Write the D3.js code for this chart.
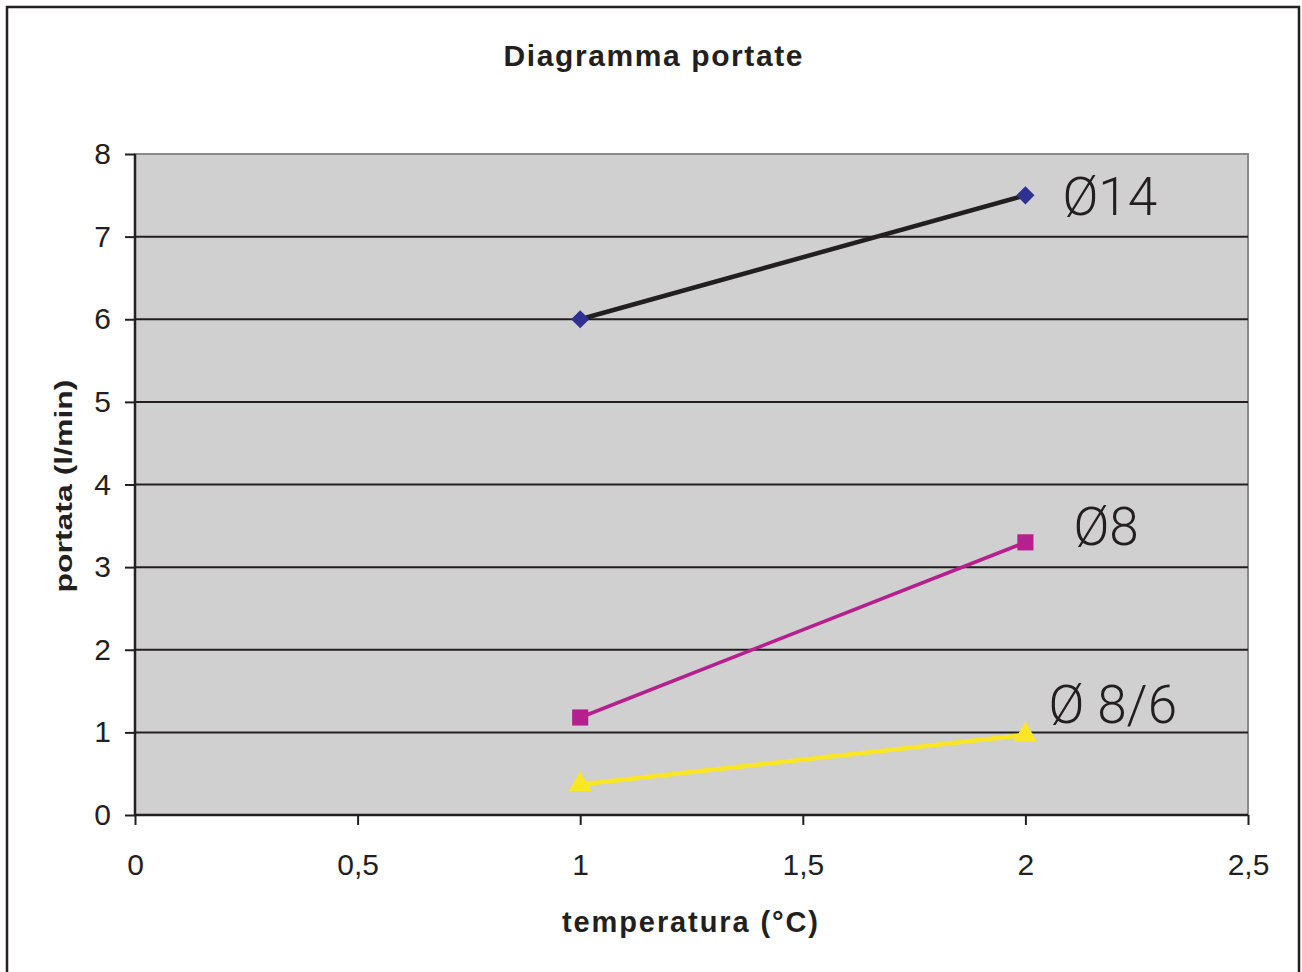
<!DOCTYPE html>
<html><head><meta charset="utf-8">
<script src="https://cdn.jsdelivr.net/npm/d3@7"></script>
<style>
html,body{margin:0;padding:0;background:#fff;}
svg{display:block;}
</style></head>
<body>
<script>
const xTicks = [0, 0.5, 1, 1.5, 2, 2.5];
const xTickLabels = ["0", "0,5", "1", "1,5", "2", "2,5"];
const yTicks = [0, 1, 2, 3, 4, 5, 6, 7, 8];
const temps = [1, 2];
const seriesNames = ["Ø14", "Ø8", "Ø 8/6"];
const d14 = [6.0, 7.5];
const d8 = [1.18, 3.3];
const d86 = [0.37, 0.97];

const W = 1302, H = 972;
const margin = {left: 135, right: W - 1248, top: 154, bottom: H - 815};
const svg = d3.select("body").append("svg").attr("width", W).attr("height", H);

// outer frame
svg.append("rect").attr("x", 7).attr("y", 7).attr("width", 1292).attr("height", 980)
  .attr("fill", "#fff").attr("stroke", "#231f20").attr("stroke-width", 2.5);

const x = d3.scaleLinear().domain([0, 2.5]).range([margin.left, W - margin.right]);
const y = d3.scaleLinear().domain([0, 8]).range([H - margin.bottom, margin.top]);

// plot background
svg.append("rect").attr("x", x(0)).attr("y", y(8)).attr("width", x(2.5) - x(0)).attr("height", y(0) - y(8))
  .attr("fill", "#d0d0d0").attr("stroke", "#8a8a8a").attr("stroke-width", 2);

// gridlines
svg.append("g").selectAll("line").data(yTicks.filter(d => d > 0 && d < 8)).join("line")
  .attr("x1", x(0)).attr("x2", x(2.5)).attr("y1", d => y(d)).attr("y2", d => y(d))
  .attr("stroke", "#231f20").attr("stroke-width", 2);

const baseFont = "'Liberation Sans', Arial, Helvetica, sans-serif";

// y axis
const yAxis = svg.append("g").attr("transform", `translate(${x(0)},0)`)
  .call(d3.axisLeft(y).tickValues(yTicks).tickSize(10).tickPadding(14).tickFormat(d3.format("d")));
yAxis.select(".domain").attr("stroke", "#231f20").attr("stroke-width", 2.5).attr("d", `M0,${y(8)}V${y(0)}`);
yAxis.selectAll(".tick line").attr("stroke", "#231f20").attr("stroke-width", 2);
yAxis.selectAll(".tick text").attr("font-family", baseFont)
  .attr("font-size", 30).attr("fill", "#231f20");

// x axis
const xAxis = svg.append("g").attr("transform", `translate(0,${y(0)})`)
  .call(d3.axisBottom(x).tickValues(xTicks).tickSize(10).tickPadding(29).tickFormat((d, i) => xTickLabels[i]));
xAxis.select(".domain").attr("stroke", "#231f20").attr("stroke-width", 2.5).attr("d", `M${x(0)},0H${x(2.5)}`);
xAxis.selectAll(".tick line").attr("stroke", "#231f20").attr("stroke-width", 2);
xAxis.selectAll(".tick text").attr("font-family", baseFont)
  .attr("font-size", 30).attr("fill", "#231f20");

// title and axis titles
svg.append("text").attr("x", 653).attr("y", 66).attr("text-anchor", "middle")
  .attr("font-family", baseFont).attr("font-weight", "bold")
  .attr("font-size", 30).attr("textLength", 299).attr("lengthAdjust", "spacing")
  .attr("fill", "#231f20").text("Diagramma portate");
svg.append("text").attr("x", 690).attr("y", 932).attr("text-anchor", "middle")
  .attr("font-family", baseFont).attr("font-weight", "bold")
  .attr("font-size", 29).attr("textLength", 256).attr("lengthAdjust", "spacing")
  .attr("fill", "#231f20").text("temperatura (°C)");
svg.append("text").attr("transform", "translate(72,486) rotate(-90)").attr("text-anchor", "middle")
  .attr("font-family", baseFont).attr("font-weight", "bold")
  .attr("font-size", 24).attr("textLength", 213).attr("lengthAdjust", "spacingAndGlyphs")
  .attr("fill", "#231f20").text("portata (l/min)");

const line = d3.line().x((d, i) => x(temps[i])).y(d => y(d));

// series
const series = [
  {name: seriesNames[0], vals: d14, stroke: "#231f20", mark: "#2e3192", sym: d3.symbolDiamond2, size: 210, sw: 4.5},
  {name: seriesNames[1], vals: d8, stroke: "#b5208e", mark: "#b5208e", sym: d3.symbolSquare, size: 260, sw: 3.5},
  {name: seriesNames[2], vals: d86, stroke: "#fbe625", mark: "#fbe625", sym: d3.symbolTriangle, size: 230, sw: 4.5}
];
series.forEach(s => {
  svg.append("path").datum(s.vals).attr("d", line).attr("fill", "none")
    .attr("stroke", s.stroke).attr("stroke-width", s.sw);
});
series.forEach(s => {
  svg.append("g").selectAll("path").data(s.vals).join("path")
    .attr("transform", (d, i) => `translate(${x(temps[i])},${y(d)})`)
    .attr("d", d3.symbol().type(s.sym).size(s.size)).attr("fill", s.mark);
});

// series labels
const labelFont = "Roboto, 'Liberation Sans', sans-serif";
const labels = [
  {t: seriesNames[0], v: d14[1], dx: 37, dy: 20},
  {t: seriesNames[1], v: d8[1], dx: 48, dy: 3},
  {t: seriesNames[2], v: d86[1], dx: 23, dy: -12}
];
labels.forEach(l => {
  svg.append("text").attr("x", x(2) + l.dx).attr("y", y(l.v) + l.dy)
    .attr("font-family", labelFont).attr("font-weight", 300)
    .attr("font-size", 53).attr("fill", "#231f20").text(l.t);
});
</script>
</body></html>
